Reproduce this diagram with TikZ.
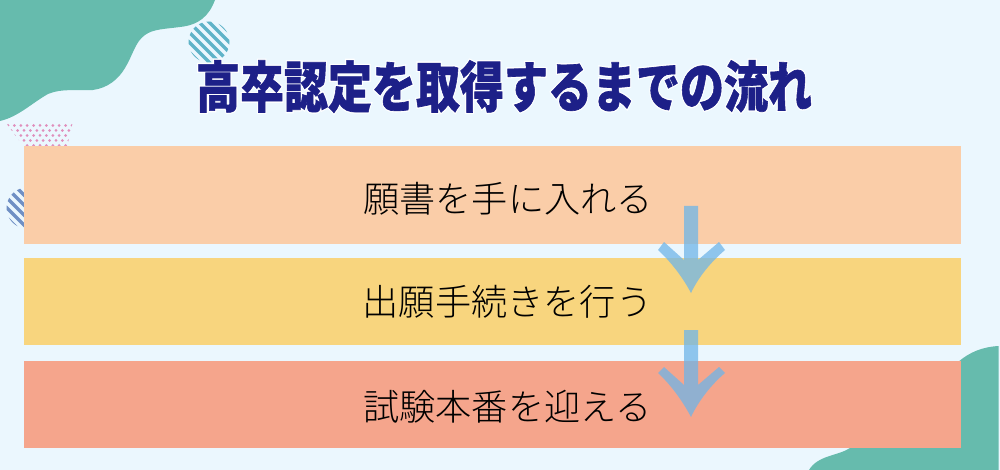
\documentclass[tikz,border=0pt]{standalone}
\usepackage{fontspec}
\usetikzlibrary{calc}
\newfontfamily\ttlfont[FakeBold=1.2]{Noto Sans CJK JP Black}
\newfontfamily\halofont[FakeBold=6]{Noto Sans CJK JP Black}
\newfontfamily\bodyfont{Noto Sans CJK JP Light}
\definecolor{bgc}{HTML}{EBF7FE}
\definecolor{tealc}{HTML}{66BBAD}
\definecolor{rowa}{HTML}{FACDA8}
\definecolor{rowb}{HTML}{F8D57E}
\definecolor{rowc}{HTML}{F5A58C}
\definecolor{navy}{HTML}{1D2088}
\definecolor{arrowc}{HTML}{6FB5E8}
\definecolor{stripea}{HTML}{5FB3C8}
\definecolor{stripeb}{HTML}{6F8FC4}
\definecolor{dotc}{HTML}{E08FBC}
\tikzset{
  rowbox/.style={minimum width=937pt,inner sep=0pt,outer sep=0pt,anchor=north west},
  rowtext/.style={font=\bodyfont\fontsize{36.2pt}{36.2pt}\selectfont,text=black,inner sep=0pt},
  flowarrow/.style={fill=arrowc,fill opacity=.75,draw=none},
}
\begin{document}
\begin{tikzpicture}[x=1pt,y=-1pt]
\useasboundingbox (0,0) rectangle (1000,470);
\fill[bgc] (0,0) rectangle (1000,470);
% blobs
\fill[tealc] (0,0) -- (215,0) .. controls (209,16) and (199,25) .. (180,27)
  .. controls (165,29) and (153,29) .. (145,35)
  .. controls (135,42) and (133,55) .. (125,68)
  .. controls (118,80) and (107,88) .. (93,90)
  .. controls (78,91) and (62,88) .. (48,94)
  .. controls (32,103) and (18,117) .. (0,121) -- cycle;
\fill[tealc] (998.5,346) .. controls (982,347) and (970,352) .. (958,362)
  -- (950,440) -- (850,448)
  .. controls (838,456) and (818,455) .. (809,470) -- (998.5,470) -- cycle;
% striped circles
\begin{scope}
  \clip (209,42) circle (20.5);
  \foreach \k in {-4,...,4}
    \draw[stripea,line width=3.4pt] ($(209,42)+(\k*5,-\k*5)+(-30,-30)$) -- ($(209,42)+(\k*5,-\k*5)+(30,30)$);
\end{scope}
\begin{scope}
  \clip (27,208) circle (20.5);
  \foreach \k in {-4,...,4}
    \draw[stripeb,line width=3.4pt] ($(27,208)+(\k*5,-\k*5)+(-30,-30)$) -- ($(27,208)+(\k*5,-\k*5)+(30,30)$);
\end{scope}
% dotted patch
\begin{scope}
  \clip (6,123) -- (73,121) -- (67,147) -- (24,147) -- cycle;
  \foreach \r/\o in {0/0,1/3.2,2/0,3/3.2,4/0}
    \foreach \c in {0,...,11}
      \fill[dotc] ({8+\o+\c*6.4},{125.5+\r*5}) circle (1.5);
\end{scope}
% rows
\node[rowbox,fill=rowa,minimum height=98pt] (r1) at (24,146) {};
\node[rowbox,fill=rowb,minimum height=87.5pt] (r2) at (24,257.5) {};
\node[rowbox,fill=rowc,minimum height=87pt] (r3) at (24,361) {};
\node[rowtext] (t1) at (508,199) {願書を手に入れる};
\node[rowtext] (t2) at (507.5,302) {出願手続きを行う};
\node[rowtext] (t3) at (507.5,407) {試験本番を迎える};
% arrows
\fill[flowarrow] (684,206) -- (684,260) -- (664,242) -- (658,250)
  .. controls (670,261) and (682,276) .. (691,293)
  .. controls (699,276) and (712,261) .. (725,250)
  -- (719,242) -- (698,260) -- (698,206) -- cycle;
\fill[flowarrow] (684,330) -- (684,385) -- (664,367) -- (658,373)
  .. controls (670,384) and (682,400) .. (691,417)
  .. controls (699,400) and (712,384) .. (725,373)
  -- (719,367) -- (698,385) -- (698,330) -- cycle;
% title
\node[font=\halofont\fontsize{44pt}{44pt}\selectfont,text=white,inner sep=0pt] (halo) at (504,86.5) {\scalebox{1}[1.25]{高卒認定を取得するまでの流れ}};
\node[font=\ttlfont\fontsize{44pt}{44pt}\selectfont,text=navy,inner sep=0pt] (title) at (504,86.5) {\scalebox{1}[1.25]{高卒認定を取得するまでの流れ}};
\end{tikzpicture}
\end{document}
